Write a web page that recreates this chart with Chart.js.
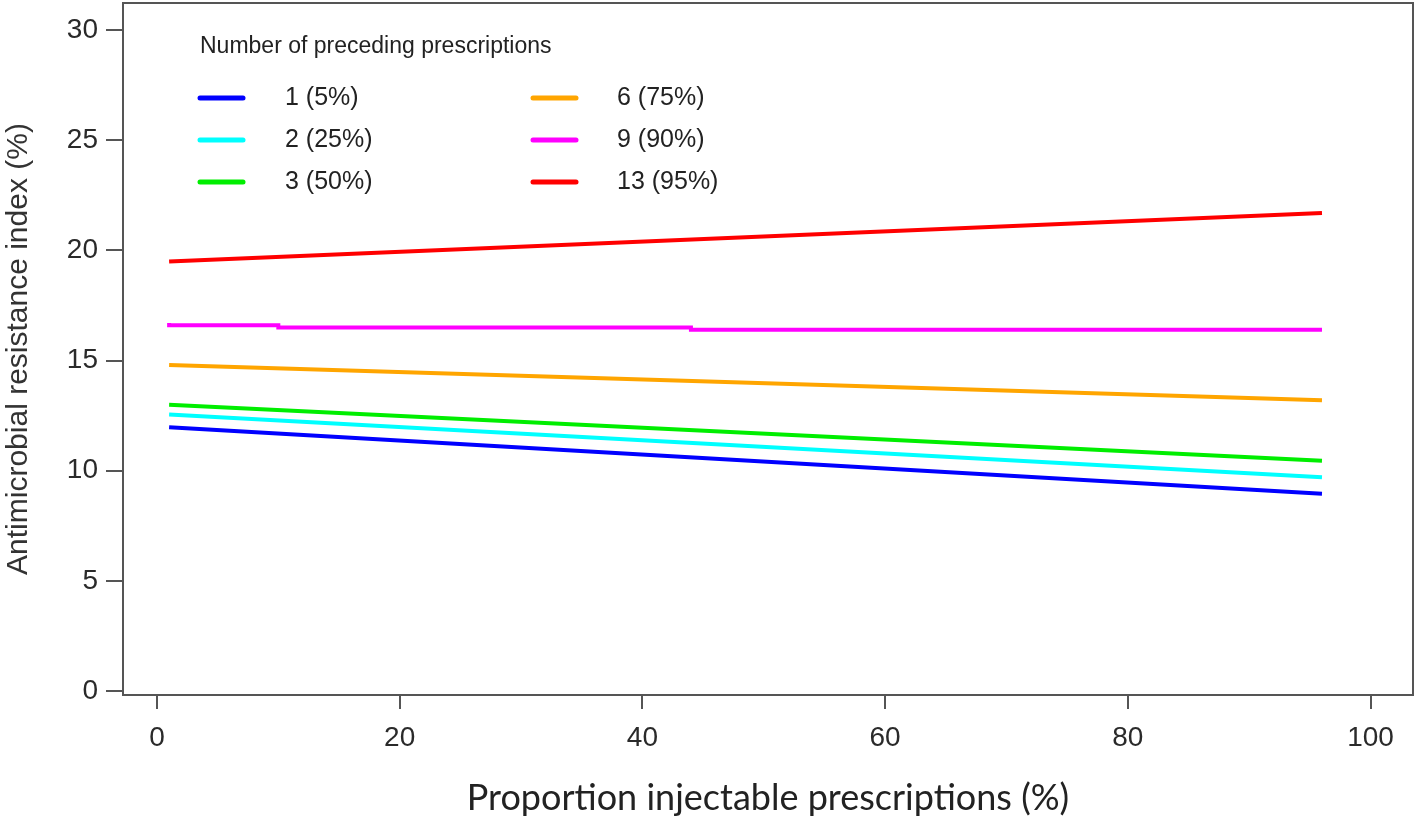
<!DOCTYPE html>
<html>
<head>
<meta charset="utf-8">
<title>Antimicrobial resistance index</title>
<script src="https://cdn.jsdelivr.net/npm/chart.js@4/dist/chart.umd.min.js"></script>
<style>
  html, body { margin: 0; padding: 0; background: #fff; }
  canvas { display: block; }
</style>
</head>
<body>
<canvas id="myChart" width="1418" height="824"></canvas>
<script>
// values (x = proportion injectable, y = resistance index)
var xEnds = [1, 96];
var blueVals = [11.97, 8.95];
var cyanVals = [12.55, 9.7];
var greenVals = [13.0, 10.45];
var orangeVals = [14.8, 13.2];
var magentaX = [1, 10, 44, 78, 96];
var magentaVals = [16.7, 16.6, 16.5, 16.4, 16.4];
var redVals = [19.5, 21.7];

var seriesLabels = ['1 (5%)', '2 (25%)', '3 (50%)', '6 (75%)', '9 (90%)', '13 (95%)'];
var seriesColors = ['#0000ff', '#00ffff', '#00ee00', '#ffa500', '#ff00ff', '#ff0000'];
var legendTitle = 'Number of preceding prescriptions';

var xTicks = [0, 20, 40, 60, 80, 100];
var yTicks = [0, 5, 10, 15, 20, 25, 30];

function pts(xs, ys) {
    return xs.map(function (x, i) { return { x: x, y: ys[i] }; });
}

var seriesData = [
    pts(xEnds, blueVals),
    pts(xEnds, cyanVals),
    pts(xEnds, greenVals),
    pts(xEnds, orangeVals),
    pts(magentaX, magentaVals),
    pts(xEnds, redVals)
];

var datasets = seriesData.map(function (d, i) {
    return {
        label: seriesLabels[i],
        data: d,
        borderColor: seriesColors[i],
        backgroundColor: seriesColors[i],
        borderWidth: 4,
        pointRadius: 0,
        tension: 0,
        stepped: i === 4 ? 'after' : false,
        fill: false
    };
});

// box around the plot region, like R's bty="o"
var framePlugin = {
    id: 'frame',
    afterDraw: function (chart) {
        var a = chart.chartArea, c = chart.ctx;
        c.save();
        c.strokeStyle = '#555';
        c.lineWidth = 2;
        c.strokeRect(a.left, a.top, a.right - a.left, a.bottom - a.top);
        c.restore();
    }
};

// legend inside the plot, two columns of three
var boxLegend = {
    id: 'boxLegend',
    afterDraw: function (chart) {
        var c = chart.ctx;
        c.save();
        c.fillStyle = '#222';
        c.font = '23px "Liberation Sans", Arial, sans-serif';
        c.textBaseline = 'middle';
        c.textAlign = 'left';
        c.fillText(legendTitle, 200, 47);
        c.font = '25px "Liberation Sans", Arial, sans-serif';
        chart.data.datasets.forEach(function (ds, i) {
            var col = Math.floor(i / 3), row = i % 3;
            var lx = col === 0 ? 200 : 533;
            var tx = col === 0 ? 285 : 617;
            var y = 98 + row * 42;
            c.strokeStyle = ds.borderColor;
            c.lineWidth = 5;
            c.lineCap = 'round';
            c.beginPath();
            c.moveTo(lx, y);
            c.lineTo(lx + 43, y);
            c.stroke();
            c.fillStyle = '#222';
            c.fillText(ds.label, tx, y);
        });
        c.restore();
    }
};

function noPad(s) {
    s.paddingTop = 0;
    s.paddingBottom = 0;
    s.paddingLeft = 0;
    s.paddingRight = 0;
}

var ctx = document.getElementById('myChart').getContext('2d');

var myChart = new Chart(ctx, {
    type: 'line',
    data: { datasets: datasets },
    plugins: [framePlugin, boxLegend],
    options: {
        responsive: false,
        animation: false,
        layout: { padding: { left: 0, right: 5, top: 3, bottom: 0 } },
        plugins: {
            legend: { display: false },
            tooltip: { enabled: false }
        },
        scales: {
            x: {
                type: 'linear',
                min: -2.8,
                max: 103.5,
                afterBuildTicks: function (s) { s.ticks = xTicks.map(function (v) { return { value: v }; }); },
                afterFit: function (s) { s.height = 129; noPad(s); },
                grid: { drawOnChartArea: false, drawTicks: true, tickLength: 14, color: '#555', lineWidth: 2 },
                border: { display: true, color: '#555', width: 2 },
                ticks: {
                    color: '#2a2a2a',
                    padding: 12,
                    maxRotation: 0,
                    font: { family: '"Liberation Sans", Arial, sans-serif', size: 28 }
                },
                title: {
                    display: true,
                    text: 'Proportion injectable prescriptions (%)',
                    color: '#222',
                    padding: { top: 0, bottom: 4 },
                    font: { family: 'Lato, "Open Sans", sans-serif', size: 36 }
                }
            },
            y: {
                type: 'linear',
                min: -0.18,
                max: 31.23,
                afterBuildTicks: function (s) { s.ticks = yTicks.map(function (v) { return { value: v }; }); },
                afterFit: function (s) { s.width = 123; noPad(s); },
                grid: { drawOnChartArea: false, drawTicks: true, tickLength: 17, color: '#555', lineWidth: 2 },
                border: { display: true, color: '#555', width: 2 },
                ticks: {
                    color: '#2a2a2a',
                    padding: 8,
                    font: { family: '"Liberation Sans", Arial, sans-serif', size: 28 }
                },
                title: {
                    display: true,
                    text: 'Antimicrobial resistance index (%)',
                    color: '#333',
                    padding: { top: 1, bottom: 0 },
                    font: { family: '"Liberation Sans", Arial, sans-serif', size: 30 }
                }
            }
        }
    }
});
</script>
</body>
</html>
